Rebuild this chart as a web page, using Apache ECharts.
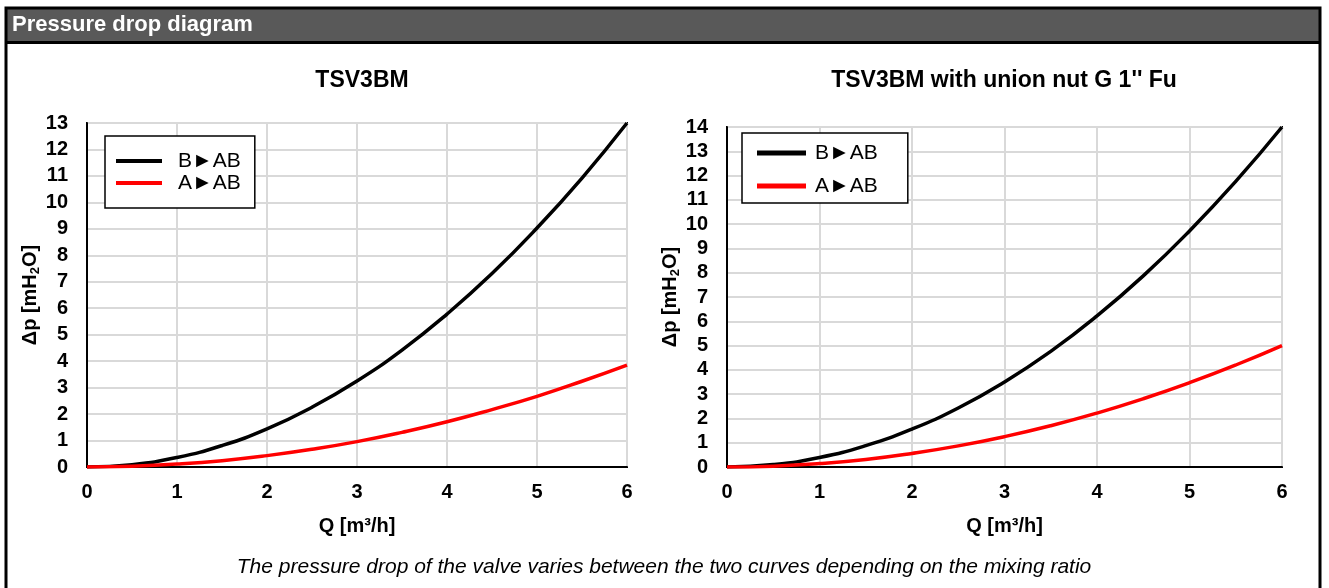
<!DOCTYPE html>
<html>
<head>
<meta charset="utf-8">
<script src="https://cdn.jsdelivr.net/npm/echarts@6/dist/echarts.min.js"></script>
<style>
html,body{margin:0;padding:0;background:#fff;}
#c{width:1329px;height:588px;}
</style>
</head>
<body>
<div id="c"></div>
<script>
// Flow rate Q [m3/h]
const flowQ = [0, 0.5, 1, 1.5, 2, 2.5, 3, 3.5, 4, 4.5, 5, 5.5, 6];
// Left chart: TSV3BM
const leftB_AB = [0, 0.09, 0.36, 0.81, 1.44, 2.26, 3.25, 4.42, 5.78, 7.31, 9.03, 10.92, 13.0];
const leftA_AB = [0, 0.03, 0.11, 0.24, 0.43, 0.67, 0.96, 1.31, 1.71, 2.17, 2.67, 3.24, 3.85];
// Right chart: TSV3BM with union nut G 1" Fu
const rightB_AB = [0, 0.10, 0.39, 0.88, 1.56, 2.43, 3.50, 4.76, 6.22, 7.87, 9.72, 11.76, 14.0];
const rightA_AB = [0, 0.035, 0.14, 0.31, 0.56, 0.87, 1.25, 1.70, 2.22, 2.81, 3.47, 4.20, 5.0];

const seriesNames = ['B\u25BAAB', 'A\u25BAAB'];
const chartTitles = ['TSV3BM', 'TSV3BM with union nut G 1\'\' Fu'];
const headerText = 'Pressure drop diagram';
const footText = 'The pressure drop of the valve varies between the two curves depending on the mixing ratio';
const xName = 'Q [m\u00B3/h]';
const yMax = [13, 14];

const FONT = '"Liberation Sans", Arial, Helvetica, sans-serif';
const pairs = (ys) => flowQ.map((x, i) => [x, ys[i]]);

const grids = [
  {left: 87, right: 702, top: 123, bottom: 121},
  {left: 727, right: 47, top: 127, bottom: 121}
];

function xAxis(gi) {
  return {
    type: 'value', gridIndex: gi, min: 0, max: 6, interval: 1,
    name: xName, nameLocation: 'middle', nameGap: 49,
    nameTextStyle: {fontFamily: FONT, fontWeight: 'bold', fontSize: 20, color: '#000'},
    axisLine: {show: true, lineStyle: {color: '#000', width: 2}},
    axisTick: {show: false},
    axisLabel: {fontFamily: FONT, fontWeight: 'bold', fontSize: 20, color: '#000', margin: 15},
    splitLine: {show: true, lineStyle: {color: '#d9d9d9', width: 2}}
  };
}
function yAxis(gi) {
  return {
    type: 'value', gridIndex: gi, min: 0, max: yMax[gi], interval: 1,
    name: '{a|\u0394p [mH}{s|2}{a|O]}', nameLocation: 'middle', nameRotate: 90, nameGap: 45,
    nameTextStyle: {
      rich: {
        a: {fontFamily: FONT, fontWeight: 'bold', fontSize: 20, color: '#000', lineHeight: 22},
        s: {fontFamily: FONT, fontWeight: 'bold', fontSize: 13, color: '#000', lineHeight: 22, verticalAlign: 'bottom'}
      }
    },
    axisLine: {show: true, lineStyle: {color: '#000', width: 2}},
    axisTick: {show: false},
    axisLabel: {fontFamily: FONT, fontWeight: 'bold', fontSize: 20, color: '#000', margin: 19},
    splitLine: {show: true, lineStyle: {color: '#d9d9d9', width: 2}}
  };
}
function line(name, data, color, gi) {
  return {
    type: 'line', name: name, xAxisIndex: gi, yAxisIndex: gi, data: pairs(data),
    smooth: true, showSymbol: false, symbol: 'none',
    lineStyle: {color: color, width: 3.5}, itemStyle: {color: color},
    z: 5, animation: false
  };
}

const chart = echarts.init(document.getElementById('c'), null, {renderer: 'canvas'});
chart.setOption({
  animation: false,
  backgroundColor: '#fff',
  title: [
    {text: chartTitles[0], left: 362, top: 69, textAlign: 'center', padding: 0,
     textStyle: {fontFamily: FONT, fontWeight: 'bold', fontSize: 23, color: '#000'}},
    {text: chartTitles[1], left: 1004, top: 69, textAlign: 'center', padding: 0,
     textStyle: {fontFamily: FONT, fontWeight: 'bold', fontSize: 23, color: '#000'}}
  ],
  legend: [
    {
      data: seriesNames, orient: 'vertical', left: 105, top: 136, selectedMode: false,
      icon: 'rect', itemWidth: 46, itemHeight: 4, itemGap: 0,
      padding: [14, 14, 14, 11], borderColor: '#000', borderWidth: 1.5, borderRadius: 0,
      backgroundColor: '#fff',
      textStyle: {fontFamily: FONT, fontSize: 21, color: '#000', lineHeight: 22, padding: [0, 0, 0, 11]}
    },
    {
      data: seriesNames, orient: 'vertical', left: 742, top: 133, selectedMode: false,
      icon: 'rect', itemWidth: 49, itemHeight: 5, itemGap: 11,
      padding: [9, 30, 6, 15], borderColor: '#000', borderWidth: 1.5, borderRadius: 0,
      backgroundColor: '#fff',
      textStyle: {fontFamily: FONT, fontSize: 21, color: '#000', lineHeight: 22, padding: [0, 0, 0, 4]}
    }
  ],
  grid: grids.map(g => Object.assign({show: true, borderColor: '#000', borderWidth: 2, containLabel: false}, g)),
  xAxis: [xAxis(0), xAxis(1)],
  yAxis: [yAxis(0), yAxis(1)],
  series: [
    line(seriesNames[0], leftB_AB, '#000000', 0),
    line(seriesNames[1], leftA_AB, '#ff0000', 0),
    line(seriesNames[0], rightB_AB, '#000000', 1),
    line(seriesNames[1], rightA_AB, '#ff0000', 1)
  ],
  graphic: [
    {type: 'rect', shape: {x: 6, y: 8, width: 1314, height: 700}, style: {fill: 'none', stroke: '#000', lineWidth: 3}, z: 10},
    {type: 'rect', shape: {x: 7, y: 9, width: 1312, height: 32}, style: {fill: '#595959'}, z: 9},
    {type: 'rect', shape: {x: 6, y: 41, width: 1314, height: 3}, style: {fill: '#000'}, z: 10},
    {type: 'text', x: 12, y: 25, style: {text: headerText, fill: '#fff', font: 'bold 22px ' + FONT, textVerticalAlign: 'middle', verticalAlign: 'middle'}, z: 11},
    {type: 'text', x: 664, y: 567, style: {text: footText, fill: '#000', font: 'italic 21px ' + FONT, align: 'center', verticalAlign: 'middle', textAlign: 'center', textVerticalAlign: 'middle'}, z: 11}
  ]
});
</script>
</body>
</html>
